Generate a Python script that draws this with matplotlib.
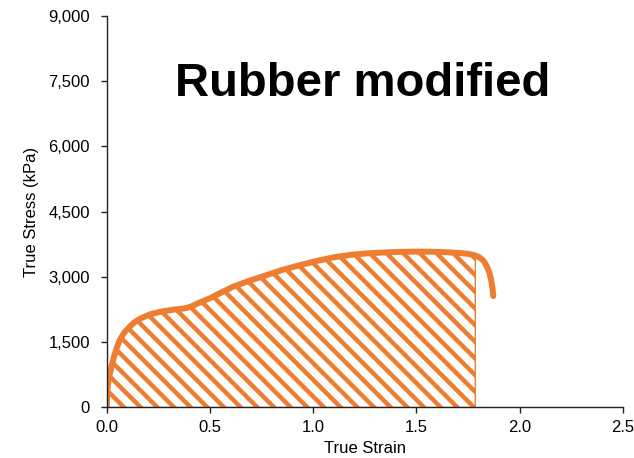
import numpy as np
import matplotlib.pyplot as plt
from matplotlib.ticker import FuncFormatter

plt.rcParams['font.family'] = ['Liberation Sans', 'DejaVu Sans']
plt.rcParams['hatch.linewidth'] = 3.2

ORANGE = '#ED7D31'

# true strain / true stress (kPa) for the rubber modified specimen
strain = [0.0, 0.003, 0.008, 0.016, 0.025, 0.035, 0.048, 0.063, 0.085, 0.11,
          0.135, 0.166, 0.21, 0.26, 0.32, 0.38, 0.41, 0.44, 0.5, 0.55,
          0.61, 0.69, 0.774, 0.85, 0.936, 1.02, 1.1, 1.18, 1.26, 1.34,
          1.42, 1.5, 1.58, 1.65, 1.71, 1.75, 1.78, 1.805, 1.825, 1.84,
          1.853, 1.862, 1.868, 1.872]
stress = [0, 400, 600, 790, 980, 1160, 1360, 1550, 1720, 1850,
          1960, 2050, 2140, 2200, 2245, 2280, 2320, 2390, 2510, 2630,
          2770, 2910, 3040, 3160, 3270, 3370, 3450, 3505, 3540, 3560,
          3575, 3580, 3578, 3565, 3548, 3530, 3500, 3450, 3370, 3250,
          3100, 2920, 2740, 2560]
# hatched area ends where the strain stops
area_end = 1.785

strain = np.array(strain)
stress = np.array(stress)

fig = plt.figure(figsize=(6.34, 4.58), dpi=100)
ax = fig.add_axes([0.1683, 0.1103, 0.8143, 0.8554])

x_fill = np.append(strain[strain < area_end], area_end)
y_fill = np.interp(x_fill, strain, stress)
ax.fill_between(x_fill, 0, y_fill, facecolor='white',
                edgecolor=ORANGE, hatch='\\\\', linewidth=1.0)
ax.plot(strain, stress, color=ORANGE, lw=4.3, solid_capstyle='round',
        solid_joinstyle='round')

ax.set_xlim(0, 2.5)
ax.set_ylim(0, 9000)
ax.set_xticks([0, 0.5, 1.0, 1.5, 2.0, 2.5])
ax.set_yticks([0, 1500, 3000, 4500, 6000, 7500, 9000])
ax.xaxis.set_major_formatter(FuncFormatter(lambda v, p: f'{v:.1f}'))
ax.yaxis.set_major_formatter(FuncFormatter(lambda v, p: f'{v:,.0f}'))

for side in ['top', 'right']:
    ax.spines[side].set_visible(False)
for side in ['left', 'bottom']:
    ax.spines[side].set_color('#222222')
    ax.spines[side].set_linewidth(1.0)
ax.tick_params(direction='out', length=4, width=1.0, color='#222222',
               labelsize=12)
ax.tick_params(axis='x', pad=5)
ax.tick_params(axis='y', pad=8)

ax.set_xlabel('True Strain', fontsize=12, labelpad=4)
ax.set_ylabel('True Stress (kPa)', fontsize=12, labelpad=7)

ax.text(1.24, 7150, 'Rubber modified', fontsize=34, fontweight='bold',
        ha='center', va='baseline')

fig.savefig('out.png', dpi=100)
